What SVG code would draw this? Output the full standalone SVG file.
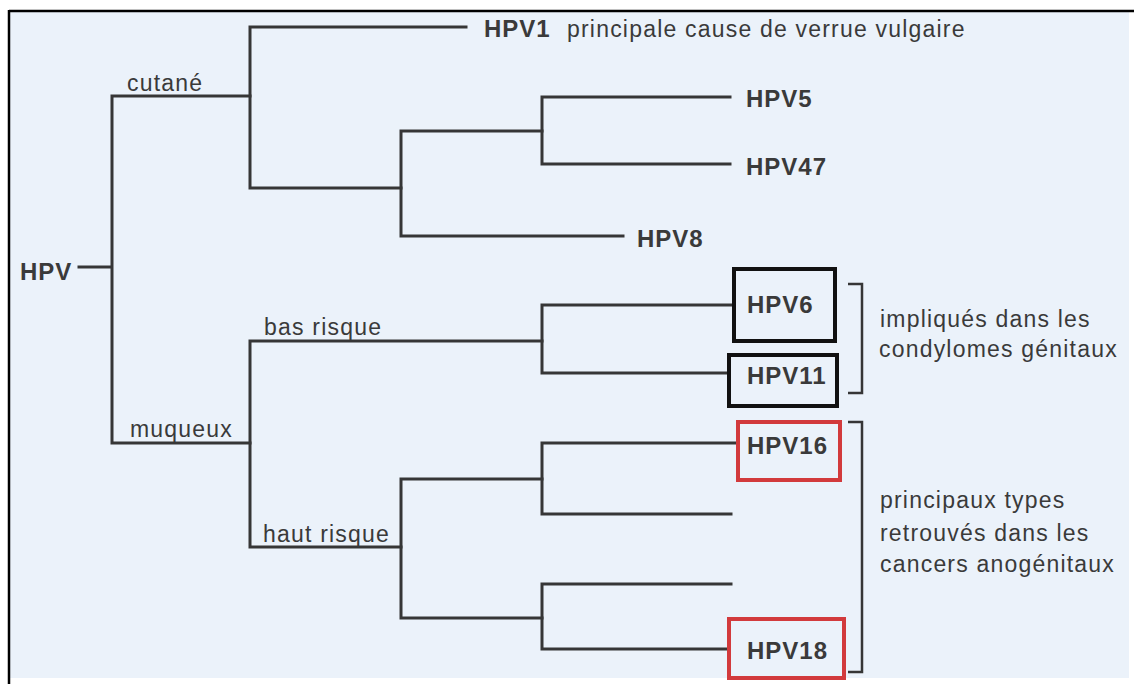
<svg xmlns="http://www.w3.org/2000/svg" width="1134" height="684" viewBox="0 0 1134 684">
<style>
.bg{fill:#ebf2fa}
.ln{stroke:#363636;stroke-width:3;fill:none;stroke-linecap:square}
.t{font-family:"Liberation Sans",Arial,sans-serif;font-size:23px;fill:#3a3a3a;letter-spacing:1.2px}
.b{font-family:"Liberation Sans",Arial,sans-serif;font-size:24px;font-weight:bold;fill:#3a3a3a;letter-spacing:1px}
.boxk{fill:none;stroke:#111;stroke-width:4}
.boxr{fill:none;stroke:#d23a3c;stroke-width:4}
.br{stroke:#363636;stroke-width:2.5;fill:none}
</style>
<rect x="0" y="0" width="1134" height="684" fill="#ffffff"/>
<rect class="bg" x="10" y="12" width="1119" height="666"/>
<line x1="9" y1="11" x2="1134" y2="11" stroke="#000" stroke-width="2.5"/>
<line x1="9" y1="10" x2="9" y2="684" stroke="#000" stroke-width="2.5"/>
<g id="connectors">
<path class="ln" d="M79 267 H112 M112 96 V443 M112 96 H250 M112 443 H250"/>
<path class="ln" d="M250 27 V188 M250 27 H466 M250 188 H401"/>
<path class="ln" d="M401 131 V236 M401 131 H542 M401 236 H623"/>
<path class="ln" d="M542 97 V164 M542 97 H730 M542 164 H730"/>
<path class="ln" d="M250 341 V547 M250 341 H542 M250 547 H401"/>
<path class="ln" d="M542 305 V373 M542 305 H733 M542 373 H728"/>
<path class="ln" d="M401 479 V618 M401 479 H542 M401 618 H542"/>
<path class="ln" d="M542 443 V514 M542 443 H736 M542 514 H731"/>
<path class="ln" d="M542 584 V649 M542 584 H731 M542 649 H728"/>
</g>
<g id="brackets">
<path class="br" d="M848 284 H862 V393 H848"/>
<path class="br" d="M848 422 H862 V672 H848"/>
</g>
<g id="HPV"><text class="b" x="20" y="280">HPV</text></g>
<g id="cutane"><text class="t" x="127" y="91">cutané</text></g>
<g id="muqueux"><text class="t" x="130" y="437">muqueux</text></g>
<g id="bas-risque"><text class="t" x="264" y="335">bas risque</text></g>
<g id="haut-risque"><text class="t" x="263" y="542">haut risque</text></g>
<g id="HPV1"><text class="b" x="484" y="37">HPV1</text><text class="t" x="567" y="37">principale cause de verrue vulgaire</text></g>
<g id="HPV5"><text class="b" x="746" y="107">HPV5</text></g>
<g id="HPV47"><text class="b" x="746" y="175">HPV47</text></g>
<g id="HPV8"><text class="b" x="637" y="247">HPV8</text></g>
<g id="HPV6"><rect class="boxk" x="734" y="269" width="101" height="72"/><text class="b" x="747" y="313">HPV6</text></g>
<g id="HPV11"><rect class="boxk" x="729" y="355" width="108" height="51"/><text class="b" x="747" y="384">HPV11</text></g>
<g id="HPV16"><rect class="boxr" x="738" y="422" width="102" height="58"/><text class="b" x="747" y="454">HPV16</text></g>
<g id="HPV18"><rect class="boxr" x="729" y="619" width="115" height="59"/><text class="b" x="747" y="659">HPV18</text></g>
<g id="note-bas"><text class="t" x="880" y="327">impliqués dans les</text><text class="t" x="879" y="357">condylomes génitaux</text></g>
<g id="note-haut"><text class="t" x="880" y="508">principaux types</text><text class="t" x="880" y="541">retrouvés dans les</text><text class="t" x="880" y="572">cancers anogénitaux</text></g>
</svg>
